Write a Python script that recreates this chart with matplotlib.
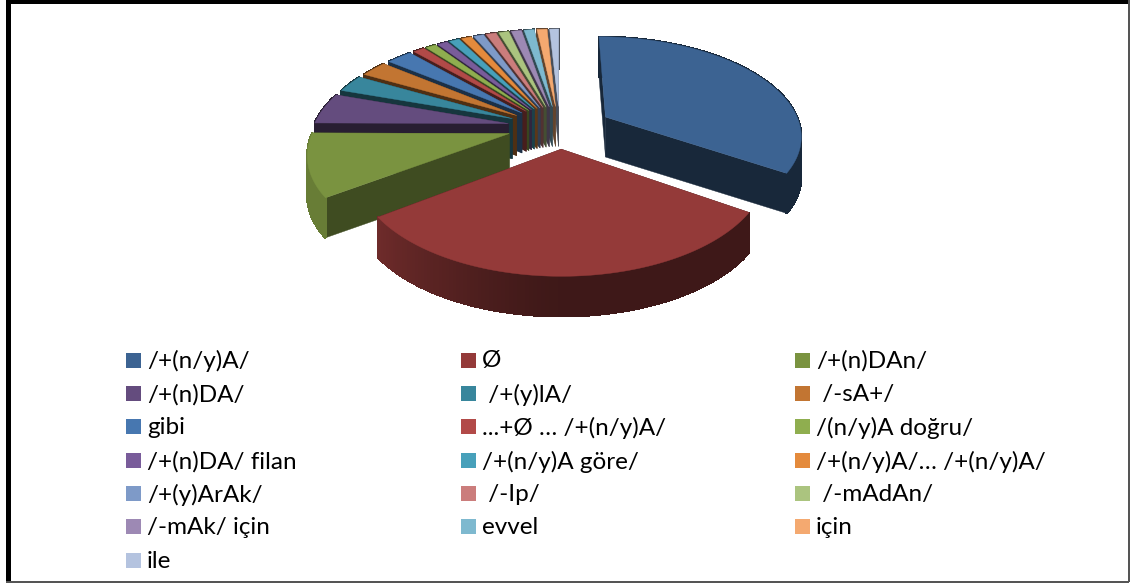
#!/usr/bin/env python3
"""Exploded 3D-look pie with a manual legend, drawn in pixel coords."""
import numpy as np
import matplotlib
matplotlib.use("Agg")
import matplotlib.pyplot as plt
from matplotlib.patches import Polygon, Rectangle

W, H = 1131, 584

labels = ["/+(n/y)A/", "Ø", "/+(n)DAn/",
          "/+(n)DA/", " /+(y)lA/", " /-sA+/",
          "gibi", "...+Ø … /+(n/y)A/", "/(n/y)A doğru/",
          "/+(n)DA/ filan", "/+(n/y)A göre/", "/+(n/y)A/… /+(n/y)A/",
          "/+(y)ArAk/", " /-Ip/", " /-mAdAn/",
          "/-mAk/ için", "evvel", "için",
          "ile"]
# share of each slice in percent
values = [34.2, 30.9, 10.0, 5.0, 2.8, 2.6, 2.5, 1.1, 1.0, 1.0, 1.0,
          1.0, 1.0, 1.0, 1.0, 1.0, 1.0, 1.0, 0.9]
colors = ["#3c6392", "#943a39", "#7a9340", "#644c7e", "#38869c", "#c27532",
          "#4777b0", "#b24a48", "#8fae4f", "#795c9a", "#47a0ba", "#e48a3c",
          "#7e9ac8", "#cb7d7c", "#abc47f", "#9d89b4", "#7eb9cf", "#f4a970",
          "#b4c3df"]

CX, CY = 560, 127
A, B, K = 195, 97, 0.17
EXPLODE_X, EXPLODE_Y = 0.27, 0.22
DEPTH = 40


def shade(col, f):
    return tuple(c * f for c in matplotlib.colors.to_rgb(col))


def project(x, y, drop=0):
    s = 1 + K * y
    return CX + A * x / s, CY - B * y / s + drop


fig = plt.figure(figsize=(W / 100, H / 100), dpi=100)
ax = fig.add_axes([0, 0, 1, 1])
ax.set_xlim(0, W)
ax.set_ylim(H, 0)
ax.axis("off")

edges = np.concatenate([[0], np.cumsum(values)]) / sum(values) * 2 * np.pi
cut_shade = {0: 0.40, 2: 0.52}
slices = []
for i in range(len(values)):
    mid = (edges[i] + edges[i + 1]) / 2
    slices.append((np.cos(mid), i))
# back slices first so the front ones paint over them
for _, i in sorted(slices, reverse=True):
    t0, t1 = edges[i], edges[i + 1]
    mid = (t0 + t1) / 2
    ox, oy = EXPLODE_X * np.sin(mid), EXPLODE_Y * np.cos(mid)
    tt = np.linspace(t0, t1, max(int((t1 - t0) * 60), 4))
    xs, ys = ox + np.sin(tt), oy + np.cos(tt)
    col = colors[i]
    dark = shade(col, cut_shade.get(i, 0.40))
    # flat cut walls
    for x_e, y_e in [(xs[0], ys[0]), (xs[-1], ys[-1])]:
        pts = [project(ox, oy), project(x_e, y_e), project(x_e, y_e, DEPTH), project(ox, oy, DEPTH)]
        ax.add_patch(Polygon(pts, closed=True, fc=dark, ec=dark, lw=0.3))
    # outer wall, shaded strip by strip
    for j in range(len(tt) - 1):
        f = 0.40
        if i == 1:
            # red wall goes from lighter on the left to dark on the right
            f = 0.42 + 0.42 * max(0, -np.sin(tt[j])) ** 1.3
        elif i == 2:
            f = 0.85
        c = shade(col, f)
        pts = [project(xs[j], ys[j]), project(xs[j + 1], ys[j + 1]),
               project(xs[j + 1], ys[j + 1], DEPTH), project(xs[j], ys[j], DEPTH)]
        ax.add_patch(Polygon(pts, closed=True, fc=c, ec=c, lw=1.0, antialiased=False))
    top = [project(ox, oy)] + [project(a, b) for a, b in zip(xs, ys)]
    ax.add_patch(Polygon(top, closed=True, fc=col, ec=col, lw=0.3))

# legend, filled row by row
col_x = [126, 461, 795]
row_y = [360, 393.5, 426.5, 460.5, 493.5, 526.5, 560.5]
for i, lab in enumerate(labels):
    x, y = col_x[i % 3], row_y[i // 3]
    ax.add_patch(Rectangle((x, y - 7.5), 15, 15, fc=colors[i], ec="none"))
    ax.text(x + 21, y + 1, lab, fontsize=17.5, family="Lato", color="black",
            va="center", ha="left")

# chart frame: heavy top and left, thin grey right and bottom
ax.add_patch(Rectangle((6, 0), W - 8, 3.5, fc="black", ec="none"))
ax.add_patch(Rectangle((6, 0), 5, H - 2, fc="black", ec="none"))
ax.add_patch(Rectangle((1127.5, 0), 2, H - 2, fc="#555555", ec="none"))
ax.add_patch(Rectangle((6, 580.5), W - 8, 2, fc="#555555", ec="none"))

fig.savefig("out.png", dpi=100, facecolor="white")
